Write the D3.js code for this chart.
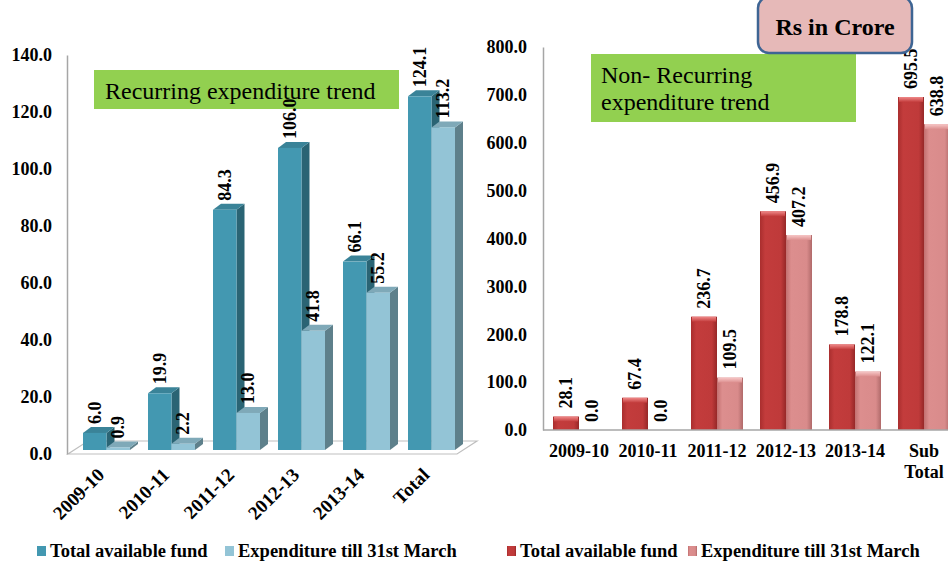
<!DOCTYPE html>
<html>
<head>
<meta charset="utf-8">
<script src="https://cdn.jsdelivr.net/npm/d3@7"></script>
<style>
  body { margin: 0; background: #fff; }
  svg { display: block; font-family: "Liberation Serif", "Times New Roman", serif; }
  .val { font-weight: bold; font-size: 18px; fill: #000; }
  .tick text { font-family: "Liberation Serif", "Times New Roman", serif; font-weight: bold; font-size: 18px; fill: #000; }
  .legend text { font-weight: bold; font-size: 18.5px; fill: #000; }
</style>
</head>
<body>
<svg class="chart"></svg>
<script>
// data (Rs in Crore)
var recurCategories = ['2009-10', '2010-11', '2011-12', '2012-13', '2013-14', 'Total'];
var recurFund = [6.0, 19.9, 84.3, 106.0, 66.1, 124.1];
var recurSpent = [0.9, 2.2, 13.0, 41.8, 55.2, 113.2];
var recurTicks = [0, 20, 40, 60, 80, 100, 120, 140];

var nonRecurCategories = ['2009-10', '2010-11', '2011-12', '2012-13', '2013-14', 'Sub Total'];
var nonRecurFund = [28.1, 67.4, 236.7, 456.9, 178.8, 695.5];
var nonRecurSpent = [0.0, 0.0, 109.5, 407.2, 122.1, 638.8];
var nonRecurTicks = [0, 100, 200, 300, 400, 500, 600, 700, 800];

var seriesNames = ['Total available fund', 'Expenditure till 31st March'];

var svgWidth = 948;
var svgHeight = 562;

var svg = d3.select('.chart')
  .attr('width', svgWidth)
  .attr('height', svgHeight);

var defs = svg.append('defs');

function addGradient(id, vertical, stops) {
  var grad = defs.append('linearGradient')
    .attr('id', id)
    .attr('x1', 0).attr('y1', 0)
    .attr('x2', vertical ? 0 : 1)
    .attr('y2', vertical ? 1 : 0);
  stops.forEach(function(s) {
    grad.append('stop').attr('offset', s[0]).attr('stop-color', s[1]);
  });
}

addGradient('redFund', false, [[0, '#A92E2E'], [0.2, '#C33C3C'], [0.8, '#BF3A3A'], [1, '#962828']]);
addGradient('redSpent', false, [[0, '#C27070'], [0.2, '#DC8E8E'], [0.8, '#D98B8B'], [1, '#B06A6A']]);
addGradient('redFundTop', true, [[0, '#F08A8A'], [1, '#C33C3C']]);
addGradient('redSpentTop', true, [[0, '#F7C8C8'], [1, '#DC8E8E']]);

// ---------------- Recurring (left, 3D look) ----------------

var leftY = d3.scaleLinear()
  .domain([0, 140])
  .range([454, 55]);

var leftX = d3.scaleBand()
  .domain(recurCategories)
  .range([74, 464])
  .paddingInner(18 / 65)
  .paddingOuter(9 / 65);

var leftInner = d3.scaleBand()
  .domain(seriesNames)
  .range([0, leftX.bandwidth()]);

var depthX = 8;
var depthY = 6;
var frontShift = 4;

// floor
svg.append('path')
  .attr('d', 'M68,454 L457,454 L' + (457 + 20) + ',' + (454 - 13) + ' L88,441 Z')
  .attr('fill', '#fff')
  .attr('stroke', '#BFBFBF')
  .attr('stroke-width', 1.2);

// y axis
svg.append('g')
  .attr('transform', 'translate(67,0)')
  .call(d3.axisLeft(leftY)
    .tickValues(recurTicks)
    .tickFormat(d3.format('.1f'))
    .tickSize(0)
    .tickPadding(15))
  .call(function(g) { g.select('.domain').attr('stroke', '#A6A6A6').attr('stroke-width', 1.5); });

// title box
svg.append('rect')
  .attr('x', 94).attr('y', 70)
  .attr('width', 305).attr('height', 39)
  .attr('fill', '#92D050');

svg.append('text')
  .attr('x', 105).attr('y', 99)
  .style('font-size', '24px')
  .text('Recurring expenditure trend');

var leftColors = {
  'Total available fund': { front: '#4398B1', side: '#2A6474', top: '#3A8398' },
  'Expenditure till 31st March': { front: '#93C4D6', side: '#5E808B', top: '#7FA9B8' }
};

var recurRows = recurCategories.map(function(c, i) {
  return [
    { cat: c, name: seriesNames[0], value: recurFund[i] },
    { cat: c, name: seriesNames[1], value: recurSpent[i] }
  ];
});

var leftGroups = svg.append('g').selectAll('g')
  .data(recurRows)
  .enter()
  .append('g')
  .attr('transform', function(d) { return 'translate(' + leftX(d[0].cat) + ',0)'; });

var leftBars = leftGroups.selectAll('g')
  .data(function(d) { return d; })
  .enter()
  .append('g');

function barGeom(d) {
  var x0 = leftInner(d.name);
  var x1 = x0 + leftInner.bandwidth();
  var yt = leftY(d.value) - frontShift;
  var yb = leftY(0) - frontShift;
  return { x0: x0, x1: x1, yt: yt, yb: yb };
}

// side face
leftBars.append('path')
  .attr('d', function(d) {
    var g = barGeom(d);
    return 'M' + g.x1 + ',' + g.yt + ' L' + (g.x1 + depthX) + ',' + (g.yt - depthY) +
      ' L' + (g.x1 + depthX) + ',' + (g.yb - depthY) + ' L' + g.x1 + ',' + g.yb + ' Z';
  })
  .attr('fill', function(d) { return leftColors[d.name].side; });

// top face
leftBars.append('path')
  .attr('d', function(d) {
    var g = barGeom(d);
    return 'M' + g.x0 + ',' + g.yt + ' L' + (g.x0 + depthX) + ',' + (g.yt - depthY) +
      ' L' + (g.x1 + depthX) + ',' + (g.yt - depthY) + ' L' + g.x1 + ',' + g.yt + ' Z';
  })
  .attr('fill', function(d) { return leftColors[d.name].top; });

// front face
leftBars.append('rect')
  .attr('x', function(d) { return barGeom(d).x0; })
  .attr('y', function(d) { return barGeom(d).yt; })
  .attr('width', leftInner.bandwidth())
  .attr('height', function(d) { var g = barGeom(d); return g.yb - g.yt; })
  .attr('fill', function(d) { return leftColors[d.name].front; });

leftBars.append('text')
  .attr('class', 'val')
  .attr('transform', function(d) {
    var g = barGeom(d);
    var cx = (g.x0 + g.x1) / 2 + 6;
    return 'translate(' + cx + ',' + (g.yt - depthY - 3) + ') rotate(-90)';
  })
  .text(function(d) { return d.value.toFixed(1); });

// x axis labels
svg.append('g')
  .attr('transform', 'translate(0,454)')
  .call(d3.axisBottom(leftX).tickSize(0))
  .call(function(g) { g.select('.domain').remove(); })
  .selectAll('text')
  .attr('x', 0).attr('y', 0).attr('dy', 0)
  .attr('text-anchor', 'end')
  .attr('transform', 'translate(-1,22) rotate(-45)')
  .style('font-size', '19px');

// ---------------- Non-recurring (right) ----------------

var rightY = d3.scaleLinear()
  .domain([0, 800])
  .range([430, 47]);

var rightX = d3.scaleBand()
  .domain(nonRecurCategories)
  .range([544.5, 958.5])
  .paddingInner(17 / 69)
  .paddingOuter(8.5 / 69);

var rightInner = d3.scaleBand()
  .domain(seriesNames)
  .range([0, rightX.bandwidth()]);

svg.append('rect')
  .attr('x', 591).attr('y', 54)
  .attr('width', 265).attr('height', 68)
  .attr('fill', '#92D050');

svg.append('text')
  .attr('x', 601).attr('y', 83)
  .style('font-size', '24px')
  .text('Non- Recurring');

svg.append('text')
  .attr('x', 601).attr('y', 110)
  .style('font-size', '24px')
  .text('expenditure trend');

var nonRecurRows = nonRecurCategories.map(function(c, i) {
  return [
    { cat: c, name: seriesNames[0], value: nonRecurFund[i], fill: 'redFund' },
    { cat: c, name: seriesNames[1], value: nonRecurSpent[i], fill: 'redSpent' }
  ];
});

var rightGroups = svg.append('g').selectAll('g')
  .data(nonRecurRows)
  .enter()
  .append('g')
  .attr('transform', function(d) { return 'translate(' + rightX(d[0].cat) + ',0)'; });

var rightBars = rightGroups.selectAll('g')
  .data(function(d) { return d; })
  .enter()
  .append('g');

rightBars.filter(function(d) { return d.value > 0; })
  .append('rect')
  .attr('x', function(d) { return rightInner(d.name); })
  .attr('y', function(d) { return rightY(d.value); })
  .attr('width', rightInner.bandwidth())
  .attr('height', function(d) { return rightY(0) - rightY(d.value); })
  .attr('fill', function(d) { return 'url(#' + d.fill + ')'; });

rightBars.filter(function(d) { return d.value > 0; })
  .append('rect')
  .attr('x', function(d) { return rightInner(d.name) + 1; })
  .attr('y', function(d) { return rightY(d.value); })
  .attr('width', rightInner.bandwidth() - 2)
  .attr('height', 5)
  .attr('fill', function(d) { return 'url(#' + d.fill + 'Top)'; });

rightBars.append('text')
  .attr('class', 'val')
  .attr('transform', function(d) {
    var cx = rightInner(d.name) + rightInner.bandwidth() / 2 + 6;
    return 'translate(' + cx + ',' + (rightY(d.value) - 8) + ') rotate(-90)';
  })
  .text(function(d) { return d.value.toFixed(1); });

// axes
svg.append('g')
  .attr('transform', 'translate(543,0)')
  .call(d3.axisLeft(rightY)
    .tickValues(nonRecurTicks)
    .tickFormat(d3.format('.1f'))
    .tickSize(0)
    .tickPadding(16))
  .call(function(g) { g.select('.domain').attr('stroke', '#A6A6A6').attr('stroke-width', 1.5); });

svg.append('line')
  .attr('x1', 543).attr('x2', svgWidth)
  .attr('y1', rightY(0)).attr('y2', rightY(0))
  .attr('stroke', '#A6A6A6')
  .attr('stroke-width', 1.5);

var rightAxis = svg.append('g')
  .attr('transform', 'translate(0,' + rightY(0) + ')')
  .call(d3.axisBottom(rightX).tickSize(0).tickPadding(14))
  .call(function(g) { g.select('.domain').remove(); });

// split "Sub Total" onto two lines
rightAxis.selectAll('text')
  .each(function(d) {
    var words = d.split(' ');
    if (words.length < 2) return;
    var t = d3.select(this).text(null);
    words.forEach(function(w, i) {
      t.append('tspan')
        .attr('x', 0)
        .attr('dy', i === 0 ? '0.71em' : '1.17em')
        .text(w);
    });
  });

// units box
svg.append('rect')
  .attr('x', 758).attr('y', -3)
  .attr('width', 154).attr('height', 56)
  .attr('rx', 11)
  .attr('fill', '#E6B9B8')
  .attr('stroke', '#3E6594')
  .attr('stroke-width', 2.5);

svg.append('text')
  .attr('x', 835).attr('y', 35)
  .attr('text-anchor', 'middle')
  .style('font-size', '24px')
  .style('font-weight', 'bold')
  .text('Rs in Crore');

// ---------------- legends ----------------

var legendItems = [
  { x: 37, fill: leftColors[seriesNames[0]].front, label: seriesNames[0] },
  { x: 225, fill: leftColors[seriesNames[1]].front, label: seriesNames[1] },
  { x: 507, fill: 'url(#redFund)', label: seriesNames[0] },
  { x: 688, fill: 'url(#redSpent)', label: seriesNames[1] }
];

var legend = svg.append('g')
  .attr('class', 'legend')
  .selectAll('g')
  .data(legendItems)
  .enter()
  .append('g')
  .attr('transform', function(d) { return 'translate(' + d.x + ',0)'; });

legend.append('rect')
  .attr('x', 0).attr('y', 546)
  .attr('width', 9).attr('height', 10)
  .attr('fill', function(d) { return d.fill; });

legend.append('text')
  .attr('x', 13).attr('y', 557)
  .text(function(d) { return d.label; });
</script>
</body>
</html>
